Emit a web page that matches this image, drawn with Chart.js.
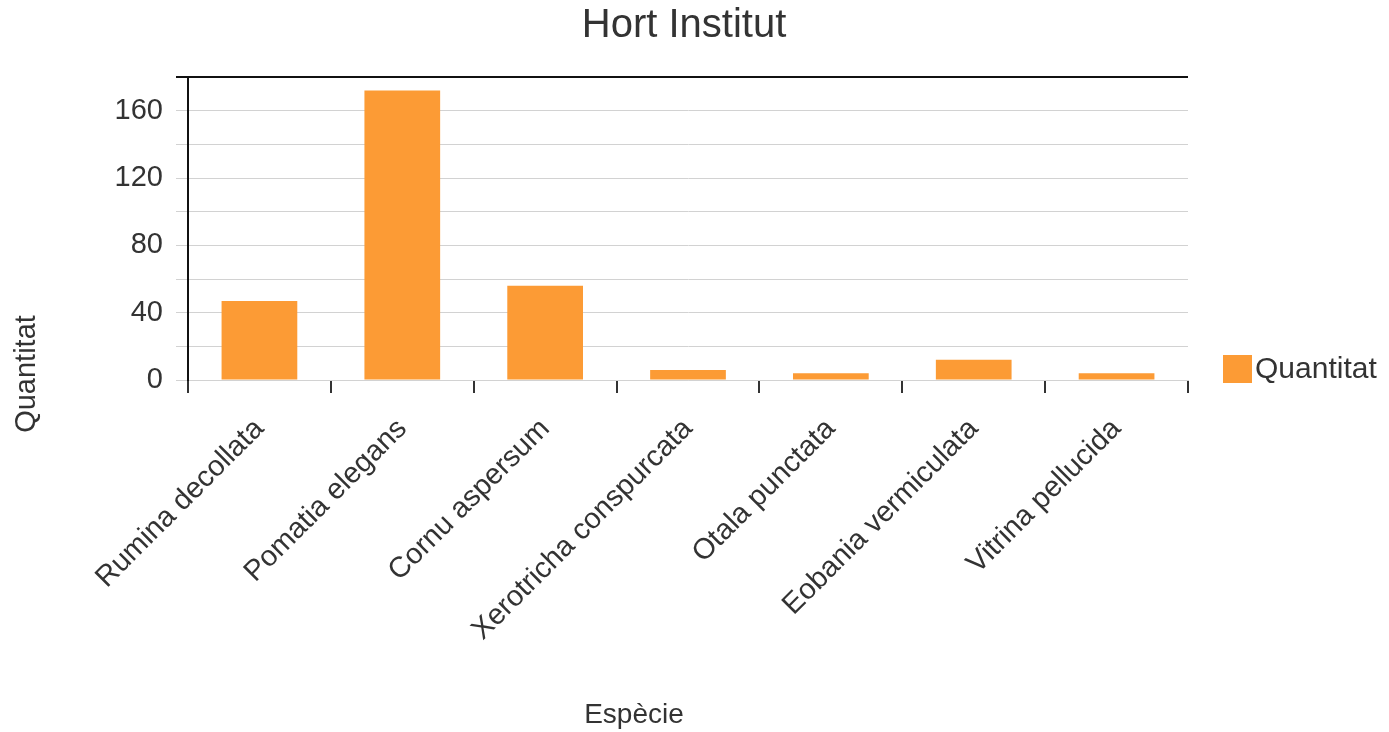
<!DOCTYPE html>
<html lang="ca">
<head>
    <meta charset="UTF-8">
    <title>Hort Institut</title>
    <script src="https://cdn.jsdelivr.net/npm/chart.js"></script>
    <style>
        html, body {
            margin: 0;
            padding: 0;
            background: #fff;
        }
        #chart-container {
            width: 1389px;
            height: 732px;
        }
    </style>
</head>
<body>
    <div id="chart-container">
        <canvas id="speciesChart"></canvas>
    </div>

    <script>
        // Data
        const species = ['Rumina decollata', 'Pomatia elegans', 'Cornu aspersum', 'Xerotricha conspurcata',
                         'Otala punctata', 'Eobania vermiculata', 'Vitrina pellucida'];
        const quantities = [47, 172, 56, 6, 4, 12, 4];
        const seriesLabel = 'Quantitat';
        const chartTitle = 'Hort Institut';
        const xTitle = 'Espècie';
        const yTitle = 'Quantitat';

        const FONT = '"Liberation Sans", Arial, sans-serif';
        const TEXT = '#333';
        const BAR = '#fc9b35';
        const GRID = '#d2d2d2';

        // Title, axis titles and the legend are placed where the original has them
        const extraText = {
            id: 'extraText',
            afterDraw(chart) {
                const ctx = chart.ctx;
                ctx.save();
                ctx.fillStyle = TEXT;

                ctx.font = '40px ' + FONT;
                ctx.textAlign = 'center';
                ctx.textBaseline = 'alphabetic';
                ctx.fillText(chartTitle, 684, 37);

                ctx.font = '28px ' + FONT;
                ctx.textBaseline = 'middle';
                ctx.fillText(xTitle, 634, 715);

                ctx.save();
                ctx.translate(27, 374);
                ctx.rotate(-Math.PI / 2);
                ctx.font = '29px ' + FONT;
                ctx.fillText(yTitle, 0, 0);
                ctx.restore();

                // legend
                ctx.fillStyle = BAR;
                ctx.fillRect(1223, 355, 29, 28);
                ctx.fillStyle = TEXT;
                ctx.font = '30px ' + FONT;
                ctx.textAlign = 'left';
                ctx.fillText(chart.data.datasets[0].label, 1255, 370);
                ctx.restore();
            }
        };

        const ctx = document.getElementById('speciesChart').getContext('2d');
        new Chart(ctx, {
            type: 'bar',
            data: {
                labels: species,
                datasets: [{
                    label: seriesLabel,
                    data: quantities,
                    backgroundColor: BAR,
                    borderWidth: 0,
                    barPercentage: 0.53,
                    categoryPercentage: 1
                }]
            },
            options: {
                responsive: true,
                maintainAspectRatio: false,
                animation: false,
                layout: {
                    padding: { top: 77, left: 100, right: 201, bottom: 0 }
                },
                plugins: {
                    legend: { display: false },
                    title: { display: false },
                    tooltip: { enabled: false }
                },
                scales: {
                    x: {
                        afterFit: s => { s.height = 352; },
                        grid: {
                            drawOnChartArea: true,
                            color: c => c.index === species.length ? GRID : 'rgba(0,0,0,0)',
                            tickColor: c => c.index === species.length ? GRID : '#333',
                            lineWidth: c => c.index === species.length ? 1 : 2,
                            tickLength: 13
                        },
                        border: { color: GRID, width: 1 },
                        ticks: {
                            autoSkip: false,
                            minRotation: 45,
                            maxRotation: 45,
                            padding: 19,
                            color: TEXT,
                            font: { family: FONT, size: 29 }
                        }
                    },
                    y: {
                        min: 0,
                        max: 180,
                        afterFit: s => { s.width = 88; },
                        grid: {
                            color: c => c.tick && c.tick.value === 180 ? '#111' : GRID,
                            lineWidth: c => c.tick && c.tick.value === 180 ? 2 : 1,
                            tickLength: 12
                        },
                        border: { color: '#111', width: 2 },
                        ticks: {
                            autoSkip: false,
                            stepSize: 20,
                            padding: 13,
                            color: TEXT,
                            font: { family: FONT, size: 29 },
                            callback: v => (v % 40 === 0 && v < 180) ? v : ''
                        }
                    }
                }
            },
            plugins: [extraText]
        });
    </script>
</body>
</html>
